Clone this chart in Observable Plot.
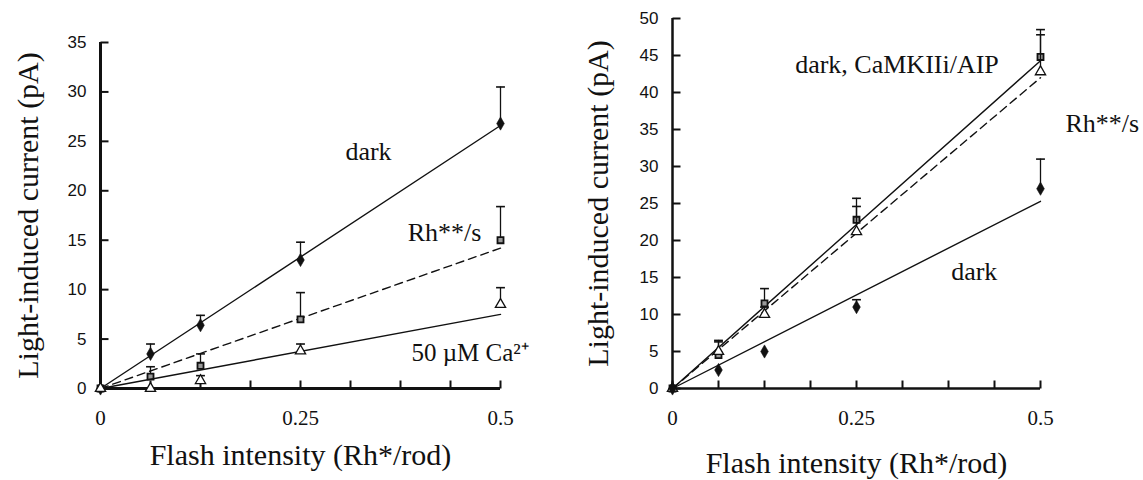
<!DOCTYPE html>
<html><head><meta charset="utf-8">
<script src="https://cdn.jsdelivr.net/npm/d3@7"></script>
<script src="https://cdn.jsdelivr.net/npm/@observablehq/plot@0.6"></script>
<style>
body{margin:0;background:#fff;}
#wrap{position:relative;width:1143px;height:480px;overflow:hidden;background:#fff;}
#left,#right{position:absolute;top:0;}
#left{left:0;} #right{left:560px;}
svg{overflow:visible;}
</style></head><body>
<div id="wrap"><div id="left"></div><div id="right"></div></div>
<script>
// ---- data ----
const xVals = [0, 0.0625, 0.125, 0.25, 0.5];
const xTickPositions = [0, 0.0625, 0.125, 0.1875, 0.25, 0.3125, 0.375, 0.4375, 0.5];
const xLabelPositions = [0, 0.25, 0.5];
const xTickLabels = ["0", "0.25", "0.5"];
const fitX = [0, 0.5];
const yTitle = "Light-induced current (pA)";
const xTitle = "Flash intensity (Rh*/rod)";

// Left panel
const leftDark = [0, 3.5, 6.4, 13.0, 26.8];
const leftDarkErr = [0, 1.0, 1.0, 1.8, 3.7];
const leftDarkFit = [0, 26.6];
const leftRh = [0, 1.2, 2.3, 7.0, 15.0];
const leftRhErr = [0, 1.0, 1.2, 2.7, 3.4];
const leftRhFit = [0, 14.2];
const leftCa = [0, 0, 0.8, 3.8, 8.5];
const leftCaErr = [0, 0, 0.5, 0.7, 1.7];
const leftCaFit = [0, 7.5];
const leftNotes = ["dark", "Rh**/s", "50 \u00b5M Ca\u00b2\u207a"];
const leftNoteX = [0.335, 0.43, 0.462];
const leftNoteY = [24.0, 15.8, 3.6];
const leftNoteSize = [26, 26, 25];

// Right panel
const rightCamk = [0, 4.5, 11.5, 22.8, 44.8];
const rightCamkErr = [0, 2.0, 2.0, 2.9, 3.7];
const rightCamkFit = [0, 44.3];
const rightRh = [0, 5.0, 10.0, 21.2, 42.8];
const rightRhErr = [0, 1.3, 1.0, 3.4, 5.0];
const rightRhFit = [0, 42.0];
const rightDark = [0, 2.5, 5.0, 11.0, 27.0];
const rightDarkErr = [0, 0, 0, 1.0, 4.0];
const rightDarkFit = [0, 25.3];
const rightNotes = ["dark, CaMKIIi/AIP", "Rh**/s", "dark"];
const rightNoteX = [0.305, 0.584, 0.41];
const rightNoteY = [43.8, 35.8, 15.8];
const rightNoteSize = [26, 26, 26];

// ---- helpers ----
const ink = "#111";
const serif = "'Liberation Serif', 'Times New Roman', serif";
const sans = "'Liberation Sans', Arial, sans-serif";
const cap = {draw(ctx, size) { const w = Math.sqrt(size) / 2; ctx.moveTo(-w, 0); ctx.lineTo(w, 0); }};
const yTickMark = {draw(ctx) { ctx.moveTo(0, 0); ctx.lineTo(8, 0); }};
const xTickMark = {draw(ctx) { ctx.moveTo(0, 0); ctx.lineTo(0, -8); }};

function rows(values, errs) {
  return xVals.map((x, i) => ({x, y: values[i], top: values[i] + errs[i], e: errs[i]}));
}
function fitRows(fit) { return fitX.map((x, i) => ({x, y: fit[i]})); }

function seriesMarks(values, errs, fit, kind, dashed) {
  const data = rows(values, errs);
  const withErr = data.filter(d => d.e > 0);
  const marks = [
    Plot.line(fitRows(fit), {x: "x", y: "y", stroke: ink, strokeWidth: 1.4, strokeDasharray: dashed ? "8,5" : null}),
    Plot.ruleX(withErr, {x: "x", y1: "y", y2: "top", stroke: ink, strokeWidth: 1.3}),
    Plot.dot(withErr, {x: "x", y: "top", symbol: cap, r: 5, stroke: ink, strokeWidth: 1.6})
  ];
  if (kind === "diamond") marks.push(Plot.dot(data, {x: "x", y: "y", symbol: "diamond", r: 4, fill: ink, stroke: ink, strokeWidth: 0.6}));
  if (kind === "square") marks.push(Plot.dot(data, {x: "x", y: "y", symbol: "square", r: 3.4, fill: "#999", stroke: ink, strokeWidth: 1.8}));
  if (kind === "triangle") marks.push(Plot.dot(data, {x: "x", y: "y", symbol: "triangle", r: 3.8, fill: "white", stroke: ink, strokeWidth: 1.3}));
  return marks;
}

function panel(o) {
  const yTicks = d3.range(0, o.yMax + 1, 5);
  const notes = o.notes.map((t, i) => ({t, x: o.noteX[i], y: o.noteY[i], s: o.noteSize[i]}));
  return Plot.plot({
    width: o.width, height: 480,
    marginLeft: o.marginLeft, marginRight: o.marginRight, marginTop: o.marginTop, marginBottom: o.marginBottom,
    x: {domain: [0, 0.5]},
    y: {domain: [0, o.yMax]},
    style: {background: "white", color: ink, overflow: "visible"},
    marks: [
      Plot.axisY(yTicks, {tickSize: 0, tickPadding: 14, fontSize: 17, fontFamily: sans, label: null}),
      Plot.dot(yTicks, {y: d => d, frameAnchor: "left", symbol: yTickMark, stroke: ink, strokeWidth: 2}),
      Plot.dot(xTickPositions, {x: d => d, frameAnchor: "bottom", symbol: xTickMark, stroke: ink, strokeWidth: 2}),
      Plot.axisX(xLabelPositions, {tickSize: 0, tickPadding: 22, fontSize: 21, fontFamily: serif, tickFormat: (d, i) => xTickLabels[i], label: null}),
      Plot.ruleX([0], {stroke: ink, strokeWidth: o.axisW}),
      Plot.ruleY([0], {stroke: ink, strokeWidth: o.axisW}),
      Plot.text([yTitle], {frameAnchor: "left", rotate: -90, textAnchor: "middle", dx: o.yTitleDx, fontSize: 30, fontFamily: serif, fill: ink}),
      Plot.text([xTitle], {frameAnchor: "bottom", textAnchor: "middle", dy: o.xTitleDy, fontSize: 30, fontFamily: serif, fill: ink}),
      ...o.series.flatMap(s => seriesMarks(...s)),
      ...notes.map(n => Plot.text([n], {x: "x", y: "y", text: "t", textAnchor: "middle", fontSize: n.s, fontFamily: serif, fill: ink}))
    ]
  });
}

const left = panel({
  width: 560, marginLeft: 100, marginRight: 60, marginTop: 42, marginBottom: 92, yMax: 35, axisW: 3,
  yTitleDx: -72, xTitleDy: 76,
  series: [
    [leftDark, leftDarkErr, leftDarkFit, "diamond", false],
    [leftRh, leftRhErr, leftRhFit, "square", true],
    [leftCa, leftCaErr, leftCaFit, "triangle", false]
  ],
  notes: leftNotes, noteX: leftNoteX, noteY: leftNoteY, noteSize: leftNoteSize
});
document.getElementById("left").appendChild(left);

const right = panel({
  width: 583, marginLeft: 112, marginRight: 103, marginTop: 18, marginBottom: 92, yMax: 50, axisW: 2.5,
  yTitleDx: -74, xTitleDy: 84,
  series: [
    [rightCamk, rightCamkErr, rightCamkFit, "square", false],
    [rightRh, rightRhErr, rightRhFit, "triangle", true],
    [rightDark, rightDarkErr, rightDarkFit, "diamond", false]
  ],
  notes: rightNotes, noteX: rightNoteX, noteY: rightNoteY, noteSize: rightNoteSize
});
document.getElementById("right").appendChild(right);
</script>
</body></html>
